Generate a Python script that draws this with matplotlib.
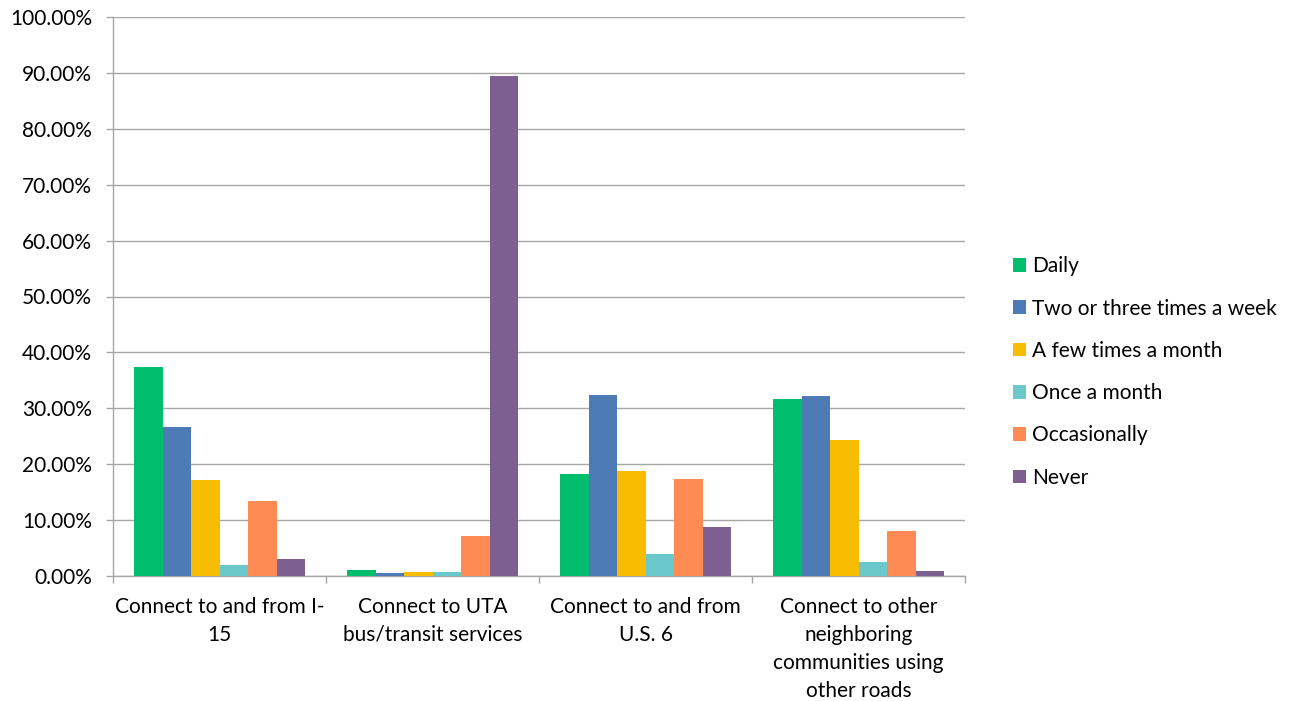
import matplotlib
matplotlib.use("Agg")
import matplotlib.pyplot as plt
import numpy as np

categories = ["Connect to and from I-\n15",
              "Connect to UTA\nbus/transit services",
              "Connect to and from\nU.S. 6",
              "Connect to other\nneighboring\ncommunities using\nother roads"]
series_names = ["Daily", "Two or three times a week", "A few times a month",
                "Once a month", "Occasionally", "Never"]
daily = [37.4, 1.1, 18.3, 31.6]
two_three_week = [26.7, 0.5, 32.4, 32.2]
few_month = [17.1, 0.7, 18.7, 24.4]
once_month = [2.0, 0.7, 4.0, 2.5]
occasionally = [13.5, 7.2, 17.4, 8.0]
never = [3.0, 89.5, 8.8, 0.9]
series = [daily, two_three_week, few_month, once_month, occasionally, never]
colors = ["#00BE6E", "#4E7AB5", "#F8BC00", "#6BC8CB", "#FE8B53", "#7E5F91"]
yticks = [0, 10, 20, 30, 40, 50, 60, 70, 80, 90, 100]

plt.rcParams['font.family'] = ['Lato', 'DejaVu Sans']
FS = 15

fig = plt.figure(figsize=(12.93, 7.01), dpi=100)
W, H = 1293, 701
ax = fig.add_axes([113 / W, (H - 576) / H, (965 - 113) / W, (576 - 17) / H])

x = np.arange(len(categories))
bw = 171 / 213 / 6
for i, (vals, c, name) in enumerate(zip(series, colors, series_names)):
    ax.bar(x + (i - 2.5) * bw, vals, width=bw, color=c, label=name,
           edgecolor='none', zorder=3)

ax.set_xlim(-0.5, len(categories) - 0.5)
ax.set_ylim(0, 100)
ax.set_yticks(yticks)
ax.set_yticklabels([f"{v:.2f}%" for v in yticks])
ax.yaxis.grid(True, color='#A6A6A6', linewidth=1.0, zorder=0)
ax.set_axisbelow(True)

ax.set_xticks(x)
ax.set_xticklabels(categories, linespacing=1.5)
ax.set_xticks(np.arange(-0.5, len(categories)), minor=True)
ax.tick_params(axis='x', which='major', length=0, pad=15, labelsize=FS, colors='#000000')
ax.tick_params(axis='x', which='minor', length=5, width=1, color='#A6A6A6', direction='out')
ax.tick_params(axis='y', length=5, width=1, color='#A6A6A6', pad=10, labelsize=FS)

for s in ['top', 'right']:
    ax.spines[s].set_visible(False)
for s in ['left', 'bottom']:
    ax.spines[s].set_color('#A6A6A6')
    ax.spines[s].set_linewidth(1.0)

leg = fig.legend(loc='center left', bbox_to_anchor=(1013 / W, (H - 372) / H),
                 frameon=False, fontsize=FS, handlelength=0.62, handleheight=0.62,
                 handletextpad=0.3, labelspacing=1.07, borderaxespad=0, borderpad=0)

fig.savefig("out.png", dpi=100, facecolor='white')
